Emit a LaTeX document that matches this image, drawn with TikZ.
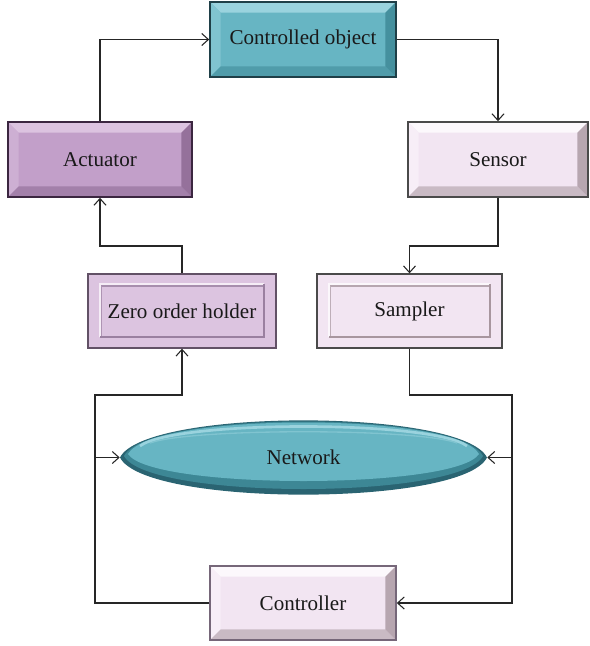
\documentclass[tikz,border=0pt]{standalone}
\usepackage{fontspec}
\setmainfont{Liberation Serif}
\usetikzlibrary{arrows.meta}
\definecolor{tealface}{HTML}{67B5C3}
\definecolor{teallight}{HTML}{9AD3DE}
\definecolor{tealmid}{HTML}{80C4D0}
\definecolor{tealdark}{HTML}{3D8795}
\definecolor{tealdeep}{HTML}{2A6472}
\definecolor{tealborder}{HTML}{1F3F47}
\definecolor{purface}{HTML}{C29FC9}
\definecolor{purlight}{HTML}{DCC3E0}
\definecolor{purmid}{HTML}{CDAFD3}
\definecolor{purdark}{HTML}{8A6690}
\definecolor{purborder}{HTML}{3B2640}
\definecolor{pinkface}{HTML}{F2E5F2}
\definecolor{pinklight}{HTML}{FCF8FC}
\definecolor{pinkmid}{HTML}{F7EEF7}
\definecolor{pinkdark}{HTML}{A8969F}
\definecolor{pinkborder}{HTML}{4A4A4A}
\definecolor{zohface}{HTML}{DCC4E0}
\definecolor{zohdark}{HTML}{9A80A0}
\definecolor{linec}{HTML}{262626}
\tikzset{
  lbl/.style={font=\fontsize{15.8}{18}\selectfont, text=black!90},
  bev/.style n args={5}{lbl, fill=#1, draw=#5, line width=1.2pt, inner sep=0pt,
    path picture={
      \fill[#2] (path picture bounding box.north west) -- (path picture bounding box.north east)
        -- ([xshift=-8pt,yshift=-8pt]path picture bounding box.north east)
        -- ([xshift=8pt,yshift=-8pt]path picture bounding box.north west) -- cycle;
      \fill[#3] (path picture bounding box.north west) -- ([xshift=8pt,yshift=-8pt]path picture bounding box.north west)
        -- ([xshift=8pt,yshift=8pt]path picture bounding box.south west)
        -- (path picture bounding box.south west) -- cycle;
      \fill[#4!55!#1] (path picture bounding box.south west) -- (path picture bounding box.south east)
        -- ([xshift=-8pt,yshift=8pt]path picture bounding box.south east)
        -- ([xshift=8pt,yshift=8pt]path picture bounding box.south west) -- cycle;
      \fill[#4!80!#1] (path picture bounding box.north east) -- ([xshift=-8pt,yshift=-8pt]path picture bounding box.north east)
        -- ([xshift=-8pt,yshift=8pt]path picture bounding box.south east)
        -- (path picture bounding box.south east) -- cycle;
    }},
  emb/.style n args={3}{lbl, fill=#1, draw=#3, line width=1pt, inner sep=0pt,
    path picture={
      \draw[white!70!#1, line width=2pt] ([xshift=9pt,yshift=8pt]path picture bounding box.south west)
        -- ([xshift=9pt,yshift=-7.5pt]path picture bounding box.north west)
        -- ([xshift=-9pt,yshift=-7.5pt]path picture bounding box.north east);
      \draw[#2!80!#1, line width=1pt] ([xshift=10pt,yshift=-9pt]path picture bounding box.north west)
        -- ([xshift=-10pt,yshift=-9pt]path picture bounding box.north east);
      \draw[#2!70!#1, line width=1pt] ([xshift=10pt,yshift=-9pt]path picture bounding box.north west)
        -- ([xshift=10pt,yshift=9pt]path picture bounding box.south west);
      \draw[#2, line width=1.6pt] ([xshift=-9pt,yshift=-7.5pt]path picture bounding box.north east)
        -- ([xshift=-9pt,yshift=8pt]path picture bounding box.south east)
        -- ([xshift=9pt,yshift=8pt]path picture bounding box.south west);
    }},
  conn/.style={draw=linec, line width=0.8pt},
  arr/.style={conn, -{Straight Barb[length=5pt,width=9pt,line width=0.8pt]}}
}
\begin{document}
\begin{tikzpicture}[x=0.75pt,y=-0.75pt]
\useasboundingbox (0,0) rectangle (589,646);

% network lens
\fill[tealdeep] (120,457.5) .. controls (145,408) and (462,408) .. (487,457.5)
  .. controls (462,507) and (145,507) .. (120,457.5) -- cycle;
\fill[tealdark] (124,456) .. controls (148,410) and (459,410) .. (483,456)
  .. controls (459,500) and (148,500) .. (124,456) -- cycle;
\fill[tealface] (128,454) .. controls (151,412) and (456,412) .. (479,454)
  .. controls (456,490) and (151,490) .. (128,454) -- cycle;
\draw[teallight, line width=2pt] (140,446) .. controls (175,420) and (432,420) .. (467,446);
\draw[tealmid, line width=1pt] (150,443) .. controls (190,428) and (417,428) .. (457,443);

% nodes
\node[bev={tealface}{teallight}{tealmid}{tealdark}{tealborder}, minimum width=139.5pt, minimum height=56.25pt] (cobj) at (303,39.5) {Controlled object};
\node[bev={purface}{purlight}{purmid}{purdark}{purborder}, minimum width=138pt, minimum height=56.25pt] (act) at (100,159.5) {Actuator};
\node[bev={pinkface}{pinklight}{pinkmid}{pinkdark}{pinkborder}, minimum width=135pt, minimum height=56.25pt] (sen) at (498,159.5) {Sensor};
\node[emb={zohface}{zohdark}{purborder!80!white}, minimum width=141pt, minimum height=55.5pt] (zoh) at (182,311) {Zero order holder};
\node[emb={pinkface}{pinkdark}{pinkborder}, minimum width=138.75pt, minimum height=55.5pt] (samp) at (409.5,311) {Sampler};
\node[bev={pinkface}{pinklight}{pinkmid}{pinkdark}{purborder!70!white}, minimum width=139.5pt, minimum height=55.5pt] (ctl) at (303,603) {Controller};
\node[lbl, minimum width=275.25pt, minimum height=55.5pt, inner sep=0pt] (net) at (303.5,457.5) {Network};

% routing helpers
\coordinate (yA) at (0,246);
\coordinate (yB) at (0,395);
\coordinate (xL) at (95,0);
\coordinate (xR) at (512,0);

% connectors
\draw[arr] (act.north) |- (cobj.west);
\draw[arr] (cobj.east) -| (sen.north);
\draw[arr] (sen.south) -- (sen.south |- yA) -| (samp.north);
\draw[arr] (zoh.north) -- (zoh.north |- yA) -| (act.south);
\draw[arr] (samp.south) -- (samp.south |- yB) -- (xR |- yB) -- (xR |- ctl.east) -- (ctl.east);
\draw[arr] (xR |- net.east) -- (net.east);
\draw[arr] (ctl.west) -- (xL |- ctl.west) -- (xL |- yB) -| (zoh.south);
\draw[arr] (xL |- net.west) -- (net.west);
\end{tikzpicture}
\end{document}
